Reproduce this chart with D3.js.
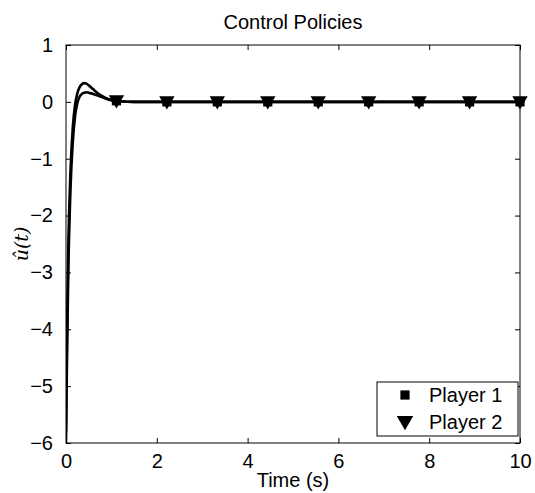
<!DOCTYPE html>
<html>
<head>
<meta charset="utf-8">
<script src="https://cdn.jsdelivr.net/npm/d3@7"></script>
<style>
  body { margin: 0; background: #fff; }
  text { font-family: "Liberation Sans", Arial, sans-serif; }
</style>
</head>
<body>
<script>
// control policy samples
var timePts = [0, 0.02, 0.05, 0.1, 0.15, 0.2, 0.25, 0.3, 0.35, 0.4, 0.45, 0.5, 0.6, 0.7, 0.8, 0.9, 1.0, 1.2, 1.5, 2, 3, 10];
var player1 = [-5.8, -4.2, -2.6, -1.2, -0.45, -0.05, 0.15, 0.26, 0.31, 0.33, 0.32, 0.29, 0.22, 0.15, 0.1, 0.06, 0.03, 0.01, 0, 0, 0, 0];
var player2 = [-6, -4.6, -3.0, -1.5, -0.7, -0.25, -0.02, 0.09, 0.14, 0.16, 0.17, 0.16, 0.14, 0.11, 0.08, 0.05, 0.03, 0.01, 0, 0, 0, 0];
var markerT = [1.111, 2.222, 3.333, 4.444, 5.556, 6.667, 7.778, 8.889, 10];
var xTicks = [0, 2, 4, 6, 8, 10];
var yTicks = [1, 0, -1, -2, -3, -4, -5, -6];
var names = ["Player 1", "Player 2"];

var width = 535, height = 493;
var margin = {top: 45, right: 15, bottom: 50, left: 66};

var svg = d3.select("body").append("svg")
    .attr("width", width)
    .attr("height", height);

var x = d3.scaleLinear().domain([0, 10]).range([margin.left, width - margin.right]);
var y = d3.scaleLinear().domain([-6, 1]).range([height - margin.bottom, margin.top]);

var x0 = x(0), x1 = x(10), y0 = y(-6), y1 = y(1);

svg.append("defs").append("clipPath").attr("id", "clip")
  .append("rect").attr("x", x0).attr("y", y1).attr("width", x1 - x0).attr("height", y0 - y1);

// axes (box with inward ticks)
svg.append("g").attr("transform", "translate(0," + y0 + ")")
  .call(d3.axisBottom(x).tickValues(xTicks).tickSizeInner(-5).tickSizeOuter(0).tickPadding(11))
  .call(function(g) { g.select(".domain").remove(); });
svg.append("g").attr("transform", "translate(0," + y1 + ")")
  .call(d3.axisTop(x).tickValues(xTicks).tickSizeInner(-5).tickSizeOuter(0).tickFormat(""))
  .call(function(g) { g.select(".domain").remove(); });
svg.append("g").attr("transform", "translate(" + x0 + ",0)")
  .call(d3.axisLeft(y).tickValues(yTicks).tickSizeInner(-5).tickSizeOuter(0).tickPadding(13)
    .tickFormat(function(d) { return d < 0 ? "\u2212" + Math.abs(d) : d; }))
  .call(function(g) { g.select(".domain").remove(); });
svg.append("g").attr("transform", "translate(" + x1 + ",0)")
  .call(d3.axisRight(y).tickValues(yTicks).tickSizeInner(-5).tickSizeOuter(0).tickFormat(""))
  .call(function(g) { g.select(".domain").remove(); });

svg.selectAll(".tick text").style("font-size", "20px").attr("fill", "#000")
  .style("font-family", "'Liberation Sans', Arial, sans-serif");
svg.selectAll(".tick line").attr("stroke", "#000");

var line = d3.line()
    .x(function(d, i) { return x(timePts[i]); })
    .y(function(d) { return y(d); })
    .curve(d3.curveMonotoneX);

var plot = svg.append("g").attr("clip-path", "url(#clip)");
[player1, player2].forEach(function(s) {
  plot.append("path").datum(s)
      .attr("d", line)
      .attr("fill", "none")
      .attr("stroke", "#000")
      .attr("stroke-width", 2.6);
});

var interp1 = d3.scaleLinear().domain(timePts).range(player1);
var interp2 = d3.scaleLinear().domain(timePts).range(player2);

var sq = d3.symbol().type(d3.symbolSquare).size(85);
var tri = function(s) { return "M" + (-s * 0.55) + "," + (-s * 0.4) + "L" + (s * 0.55) + "," + (-s * 0.4) + "L0," + (s * 0.55) + "Z"; };

svg.append("g").selectAll("path").data(markerT).enter().append("path")
    .attr("d", sq)
    .attr("transform", function(d) { return "translate(" + x(d) + "," + y(interp1(d)) + ")"; })
    .attr("fill", "#000");
svg.append("g").selectAll("path").data(markerT).enter().append("path")
    .attr("d", tri(14))
    .attr("transform", function(d) { return "translate(" + x(d) + "," + y(interp2(d)) + ")"; })
    .attr("fill", "#000");

// box outline
svg.append("rect").attr("x", x0).attr("y", y1).attr("width", x1 - x0).attr("height", y0 - y1)
  .attr("fill", "none").attr("stroke", "#000").attr("stroke-width", 1);

// title and labels
svg.append("text").attr("x", (x0 + x1) / 2).attr("y", 29).attr("text-anchor", "middle")
  .style("font-size", "20px").text("Control Policies");
svg.append("text").attr("x", (x0 + x1) / 2).attr("y", 487).attr("text-anchor", "middle")
  .style("font-size", "20px").text("Time (s)");
svg.append("text")
  .attr("transform", "translate(28," + ((y0 + y1) / 2) + ") rotate(-90)")
  .attr("text-anchor", "middle")
  .style("font-family", "'DejaVu Serif', 'Liberation Serif', serif")
  .style("font-style", "italic")
  .style("font-size", "19px")
  .text("\u00fb(t)");

// legend
var lg = svg.append("g");
lg.append("rect").attr("x", 377).attr("y", 382).attr("width", 141).attr("height", 54)
  .attr("fill", "#fff").attr("stroke", "#000").attr("stroke-width", 1);
lg.append("path").attr("d", sq).attr("transform", "translate(405,395)").attr("fill", "#000");
lg.append("path").attr("d", tri(15)).attr("transform", "translate(405,422)").attr("fill", "#000");
lg.selectAll("text.name").data(names).enter().append("text")
  .attr("x", 429).attr("y", function(d, i) { return 402 + i * 27; })
  .style("font-size", "20px").text(function(d) { return d; });
</script>
</body>
</html>
